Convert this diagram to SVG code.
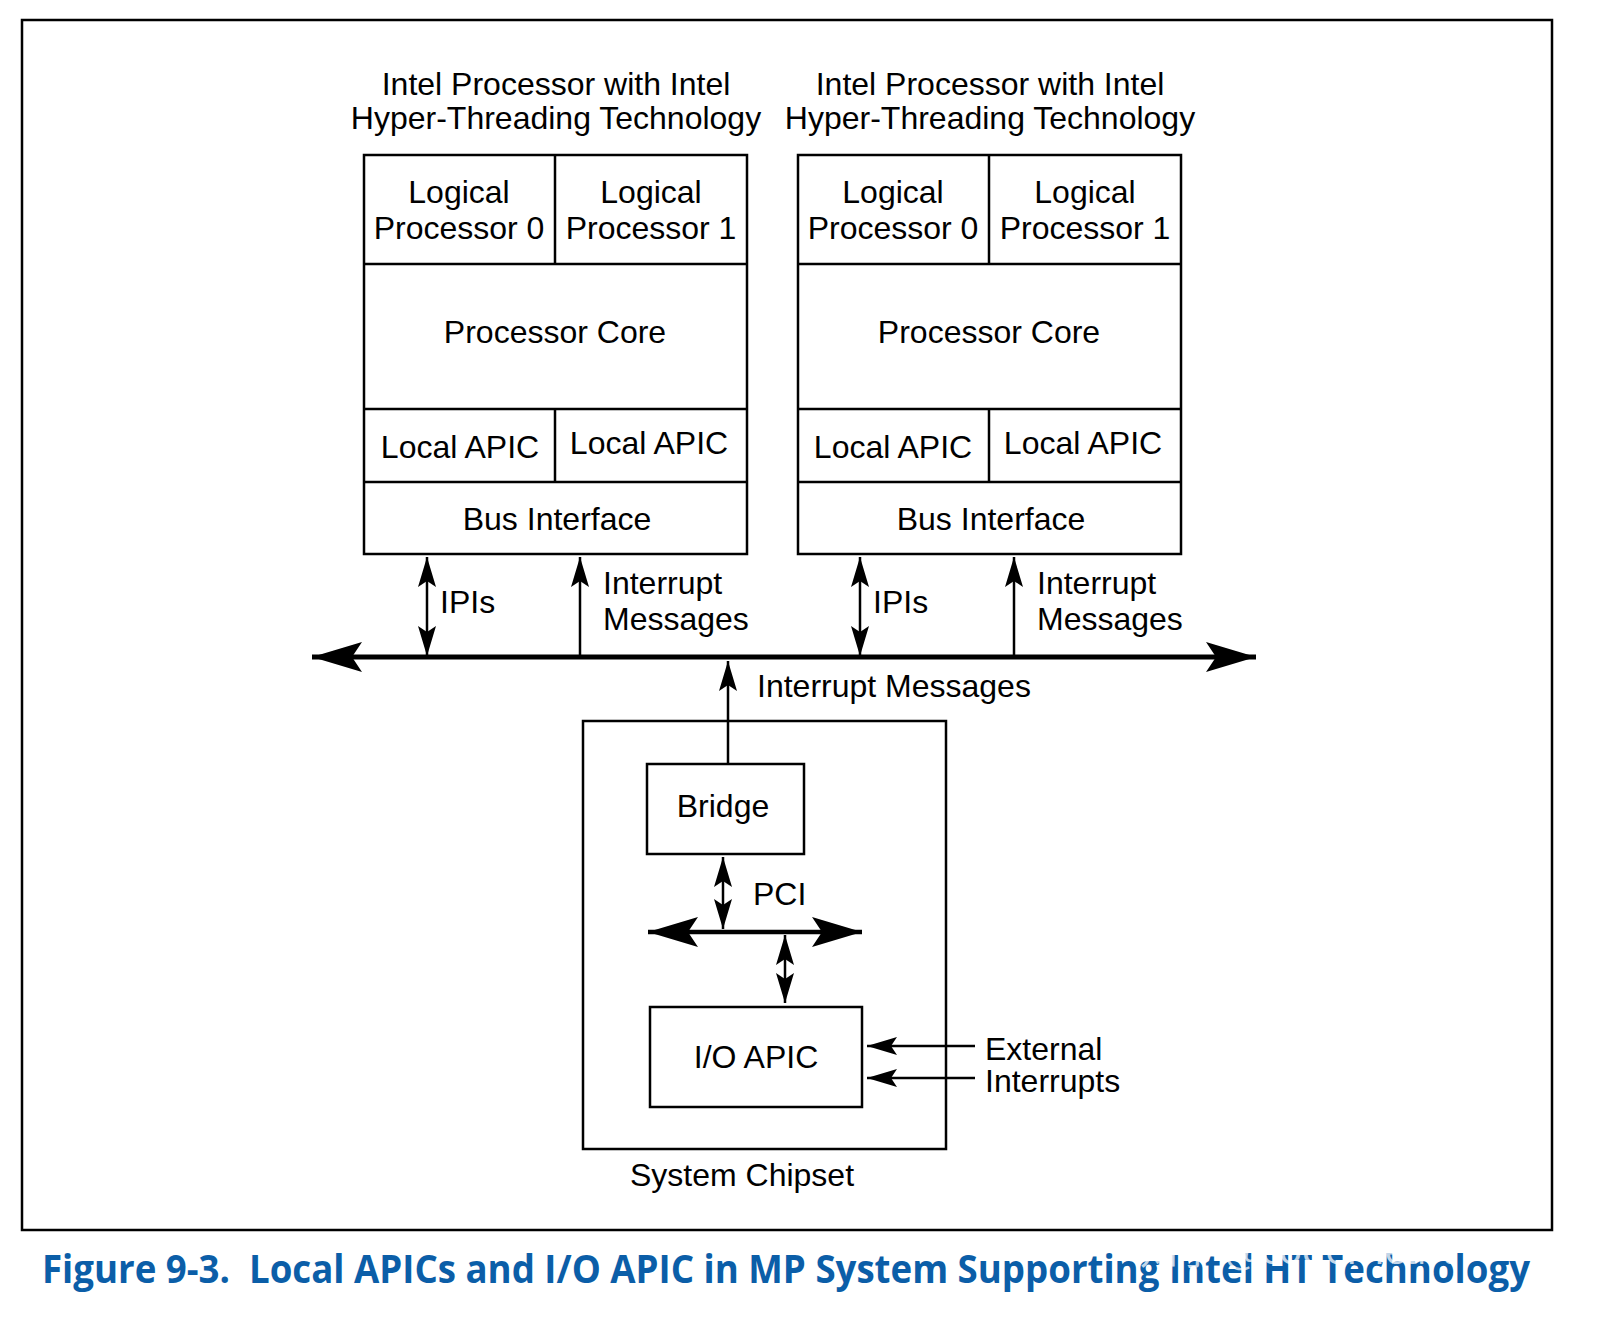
<svg xmlns="http://www.w3.org/2000/svg" width="1598" height="1342" viewBox="0 0 1598 1342">
<style>
.b{fill:none;stroke:#000;stroke-width:2.5}
.l{stroke:#000;stroke-width:2.5;fill:none}
.t{font-family:"Liberation Sans",Arial,sans-serif;font-size:32px;fill:#000}
.c{text-anchor:middle}
.h{fill:#000}
</style>
<defs>
<marker id="a" viewBox="0 0 30 18" refX="30" refY="9" markerWidth="30" markerHeight="18" markerUnits="userSpaceOnUse" orient="auto-start-reverse"><path d="M0,0 L30,9 L0,18 L6,9 Z" class="h"/></marker>
<marker id="big" viewBox="0 0 50 30" refX="50" refY="15" markerWidth="50" markerHeight="30" markerUnits="userSpaceOnUse" orient="auto-start-reverse"><path d="M0,0 L50,15 L0,30 L10,15 Z" class="h"/></marker>
</defs>
<rect width="1598" height="1342" fill="#fff"/>
<rect x="22" y="20" width="1530" height="1210" class="b"/>

<g id="proc1">
<text class="t c" x="556" y="95">Intel Processor with Intel</text>
<text class="t c" x="556" y="129">Hyper-Threading Technology</text>
<rect x="364" y="155" width="383" height="399" class="b"/>
<line x1="364" y1="264" x2="747" y2="264" class="l"/>
<line x1="364" y1="409" x2="747" y2="409" class="l"/>
<line x1="364" y1="482" x2="747" y2="482" class="l"/>
<line x1="555" y1="155" x2="555" y2="264" class="l"/>
<line x1="555" y1="409" x2="555" y2="482" class="l"/>
<text class="t c" x="459" y="203">Logical</text>
<text class="t c" x="459" y="239">Processor 0</text>
<text class="t c" x="651" y="203">Logical</text>
<text class="t c" x="651" y="239">Processor 1</text>
<text class="t c" x="555" y="343">Processor Core</text>
<text class="t c" x="460" y="458">Local APIC</text>
<text class="t c" x="649" y="454">Local APIC</text>
<text class="t c" x="557" y="530">Bus Interface</text>
</g>

<g id="proc2">
<text class="t c" x="990" y="95">Intel Processor with Intel</text>
<text class="t c" x="990" y="129">Hyper-Threading Technology</text>
<rect x="798" y="155" width="383" height="399" class="b"/>
<line x1="798" y1="264" x2="1181" y2="264" class="l"/>
<line x1="798" y1="409" x2="1181" y2="409" class="l"/>
<line x1="798" y1="482" x2="1181" y2="482" class="l"/>
<line x1="989" y1="155" x2="989" y2="264" class="l"/>
<line x1="989" y1="409" x2="989" y2="482" class="l"/>
<text class="t c" x="893" y="203">Logical</text>
<text class="t c" x="893" y="239">Processor 0</text>
<text class="t c" x="1085" y="203">Logical</text>
<text class="t c" x="1085" y="239">Processor 1</text>
<text class="t c" x="989" y="343">Processor Core</text>
<text class="t c" x="893" y="458">Local APIC</text>
<text class="t c" x="1083" y="454">Local APIC</text>
<text class="t c" x="991" y="530">Bus Interface</text>
</g>

<g id="chipset">
<rect x="583" y="721" width="363" height="428" class="b"/>
<text class="t c" x="742" y="1186">System Chipset</text>
</g>
<g id="bridge">
<rect x="647" y="764" width="157" height="90" class="b"/>
<text class="t c" x="723" y="817">Bridge</text>
</g>
<g id="ioapic">
<rect x="650" y="1007" width="212" height="100" class="b"/>
<text class="t c" x="756" y="1068">I/O APIC</text>
</g>

<g id="connectors">
<line x1="312" y1="657" x2="1256" y2="657" stroke="#000" stroke-width="5" marker-start="url(#big)" marker-end="url(#big)"/>
<line x1="427" y1="557" x2="427" y2="656" class="l" marker-start="url(#a)" marker-end="url(#a)"/>
<line x1="580" y1="655" x2="580" y2="557" class="l" marker-end="url(#a)"/>
<line x1="860" y1="557" x2="860" y2="656" class="l" marker-start="url(#a)" marker-end="url(#a)"/>
<line x1="1014" y1="655" x2="1014" y2="557" class="l" marker-end="url(#a)"/>
<line x1="728" y1="764" x2="728" y2="661" class="l" marker-end="url(#a)"/>
<line x1="723" y1="857" x2="723" y2="929" class="l" marker-start="url(#a)" marker-end="url(#a)"/>
<line x1="648" y1="932" x2="862" y2="932" stroke="#000" stroke-width="4.5" marker-start="url(#big)" marker-end="url(#big)"/>
<line x1="785" y1="935" x2="785" y2="1003" class="l" marker-start="url(#a)" marker-end="url(#a)"/>
<line x1="975" y1="1046" x2="867" y2="1046" class="l" marker-end="url(#a)"/>
<line x1="975" y1="1078" x2="867" y2="1078" class="l" marker-end="url(#a)"/>
</g>

<g id="labels">
<text class="t" x="440" y="613">IPIs</text>
<text class="t" x="603" y="594">Interrupt</text>
<text class="t" x="603" y="630">Messages</text>
<text class="t" x="873" y="613">IPIs</text>
<text class="t" x="1037" y="594">Interrupt</text>
<text class="t" x="1037" y="630">Messages</text>
<text class="t" x="757" y="697">Interrupt Messages</text>
<text class="t" x="753" y="905">PCI</text>
<text class="t" x="985" y="1060">External</text>
<text class="t" x="985" y="1092">Interrupts</text>
</g>

<text x="42" y="1283" textLength="1488" lengthAdjust="spacingAndGlyphs" style="font-family:'Open Sans','Liberation Sans',sans-serif;font-weight:bold;font-size:40px;fill:#0b5ea8;white-space:pre">Figure 9-3.  Local APICs and I/O APIC in MP System Supporting Intel HT Technology</text>
<text x="1140" y="1264" style="font-family:'Noto Sans CJK SC','Liberation Sans',sans-serif;font-size:38px;fill:#fff;opacity:0.75">知乎 @coderheart</text>
</svg>
